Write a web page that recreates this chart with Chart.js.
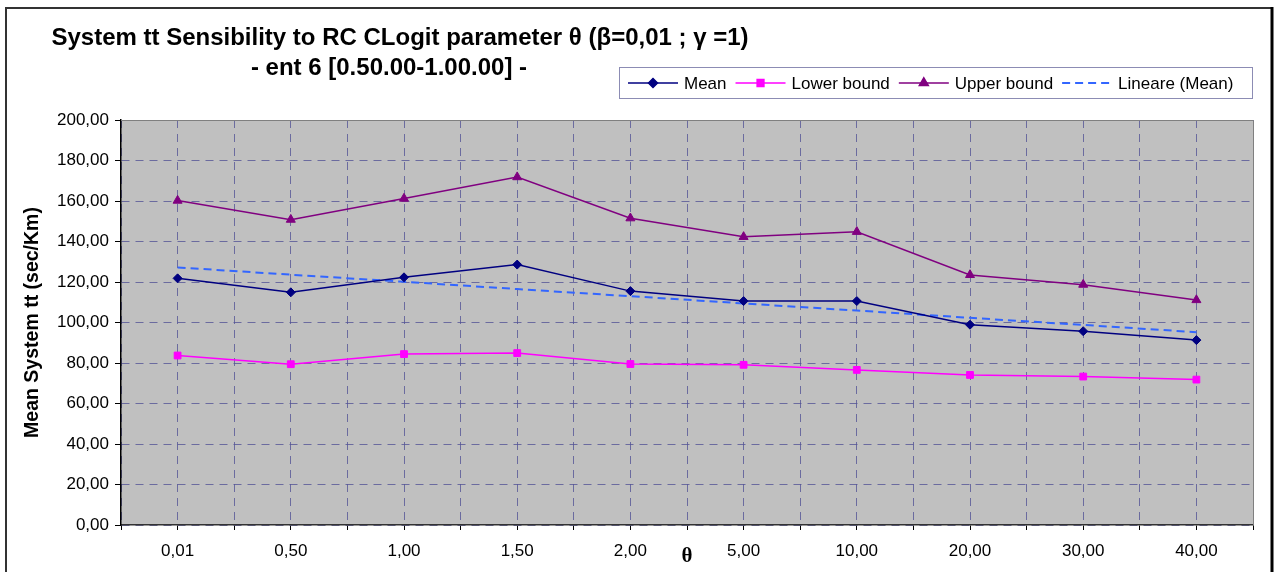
<!DOCTYPE html>
<html>
<head>
<meta charset="utf-8">
<script src="https://cdn.jsdelivr.net/npm/chart.js@4.4.1/dist/chart.umd.min.js"></script>
<style>
  html, body { margin: 0; padding: 0; background: #fff; }
  #wrap { position: relative; width: 1277px; height: 572px; }
</style>
</head>
<body>
<div id="wrap"><canvas id="chart" width="1277" height="572"></canvas></div>
<script>
const categories = ["0,01", "0,50", "1,00", "1,50", "2,00", "5,00", "10,00", "20,00", "30,00", "40,00"];
const meanValues = [121.8, 114.9, 122.3, 128.6, 115.5, 110.6, 110.6, 98.9, 95.7, 91.3];
const lowerValues = [83.7, 79.4, 84.4, 84.9, 79.5, 79.1, 76.6, 74.1, 73.3, 71.8];
const upperValues = [160.2, 150.8, 161.2, 171.8, 151.5, 142.3, 144.8, 123.5, 118.7, 111.1];
const trendValues = [127.2, 123.6, 120.1, 116.5, 113.0, 109.4, 105.9, 102.3, 98.8, 95.2];
const titleLines = ["System tt Sensibility to RC CLogit parameter \u03b8 (\u03b2=0,01 ; \u03b3 =1)", "- ent 6 [0.50.00-1.00.00] -"];
const yTitle = "Mean System tt (sec/Km)";
const xTitle = "\u03b8";

const FONT = '"Liberation Sans", Arial, sans-serif';
const gridColor = "rgba(85, 85, 150, 0.8)";

const toPoints = (vals) => vals.map((v, i) => ({ x: i, y: v }));

// frame, plot background, titles
const decor = {
  id: "decor",
  beforeDraw(chart) {
    const { ctx, chartArea: a } = chart;
    ctx.save();
    ctx.fillStyle = "#fff";
    ctx.fillRect(0, 0, chart.width, chart.height);
    ctx.fillStyle = "#c0c0c0";
    ctx.fillRect(a.left, a.top, a.right - a.left, a.bottom - a.top);
    ctx.restore();
  },
  afterDraw(chart) {
    const { ctx, chartArea: a } = chart;
    ctx.save();
    // plot area border (right/top)
    ctx.strokeStyle = "#808080";
    ctx.lineWidth = 1;
    ctx.beginPath();
    ctx.moveTo(a.left, a.top + 0.5);
    ctx.lineTo(a.right + 0.5, a.top + 0.5);
    ctx.lineTo(a.right + 0.5, a.bottom);
    ctx.stroke();
    // outer frame
    ctx.strokeStyle = "#333";
    ctx.lineWidth = 2;
    ctx.beginPath();
    ctx.moveTo(6, 600);
    ctx.lineTo(6, 8);
    ctx.lineTo(1272, 8);
    ctx.stroke();
    ctx.strokeStyle = "#000";
    ctx.lineWidth = 3;
    ctx.beginPath();
    ctx.moveTo(1272, 7);
    ctx.lineTo(1272, 600);
    ctx.stroke();
    // titles
    ctx.fillStyle = "#000";
    ctx.textAlign = "center";
    ctx.textBaseline = "middle";
    ctx.font = "bold 24px " + FONT;
    ctx.fillText(titleLines[0], 400, 38);
    ctx.fillText(titleLines[1], 389, 68);
    // x title
    ctx.font = 'bold 21px "Liberation Serif", "Times New Roman", serif';
    ctx.fillText(xTitle, (a.left + a.right) / 2, 557);
    ctx.restore();
  }
};

// Excel style legend box
const legendBox = {
  id: "legendBox",
  afterDraw(chart) {
    const { ctx } = chart;
    const box = { x: 619.5, y: 67.5, w: 633, h: 31 };
    ctx.save();
    ctx.fillStyle = "#fff";
    ctx.fillRect(box.x, box.y, box.w, box.h);
    ctx.strokeStyle = "#8c8cb4";
    ctx.lineWidth = 1;
    ctx.strokeRect(box.x, box.y, box.w, box.h);
    ctx.font = "17px " + FONT;
    ctx.textBaseline = "middle";
    ctx.textAlign = "left";
    let x = 628;
    const cy = box.y + box.h / 2;
    chart.data.datasets.forEach((ds) => {
      ctx.strokeStyle = ds.borderColor;
      ctx.lineWidth = ds.borderWidth;
      ctx.setLineDash(ds.borderDash || []);
      ctx.beginPath();
      ctx.moveTo(x, cy);
      ctx.lineTo(x + 50, cy);
      ctx.stroke();
      ctx.setLineDash([]);
      if (ds.pointRadius > 0) {
        Chart.helpers.drawPoint(ctx, {
          pointStyle: ds.pointStyle,
          radius: ds.pointRadius,
          rotation: 0,
          borderWidth: 1
        }, x + 25, cy);
        ctx.fillStyle = ds.backgroundColor;
        ctx.fill();
      }
      ctx.fillStyle = "#000";
      ctx.fillText(ds.label, x + 56, cy + 1);
      x += 56 + ctx.measureText(ds.label).width + 9;
    });
    ctx.restore();
  }
};

const lineSet = (label, vals, color, style, radius) => ({
  label,
  data: toPoints(vals),
  borderColor: color,
  backgroundColor: color,
  borderWidth: 1.5,
  pointStyle: style,
  pointRadius: radius,
  pointBackgroundColor: color,
  pointBorderColor: color,
  pointBorderWidth: 1,
  tension: 0
});

new Chart(document.getElementById("chart"), {
  type: "line",
  data: {
    datasets: [
      lineSet("Mean", meanValues, "#000080", "rectRot", 4.5),
      lineSet("Lower bound", lowerValues, "#ff00ff", "rect", 4.8),
      lineSet("Upper bound", upperValues, "#800080", "triangle", 5.2),
      {
        label: "Lineare (Mean)",
        data: toPoints(trendValues),
        borderColor: "#3366ff",
        backgroundColor: "#3366ff",
        borderWidth: 2,
        borderDash: [8, 5],
        pointRadius: 0,
        tension: 0
      }
    ]
  },
  options: {
    responsive: false,
    animation: false,
    devicePixelRatio: 1,
    layout: { padding: { top: 120, right: 24, bottom: 0, left: 0 } },
    plugins: {
      legend: { display: false },
      title: { display: false },
      tooltip: { enabled: false }
    },
    scales: {
      x: {
        type: "linear",
        min: -0.5,
        max: 9.5,
        afterFit: (s) => { s.height = 47; },
        ticks: {
          stepSize: 0.5,
          autoSkip: false,
          maxRotation: 0,
          padding: 11,
          color: "#000",
          font: { family: FONT, size: 17 },
          callback: (v) => (Number.isInteger(v) ? categories[v] : "")
        },
        grid: { color: gridColor, lineWidth: 1, tickLength: 5, tickColor: "#000" },
        border: { color: "#333", width: 1.5, dash: [8, 6] }
      },
      y: {
        min: 0,
        max: 200,
        afterFit: (s) => { s.width = 121; },
        ticks: {
          stepSize: 20,
          padding: 6,
          color: "#000",
          font: { family: FONT, size: 17 },
          callback: (v) => v.toFixed(2).replace(".", ",")
        },
        grid: { color: gridColor, lineWidth: 1, tickLength: 6, tickColor: "#000" },
        border: { color: "#000", width: 1.5, dash: [8, 6] },
        title: {
          display: true,
          text: yTitle,
          color: "#000",
          font: { family: FONT, size: 19.5, weight: "bold" },
          padding: { top: 21, bottom: 0 }
        }
      }
    }
  },
  plugins: [decor, legendBox]
});
</script>
</body>
</html>
